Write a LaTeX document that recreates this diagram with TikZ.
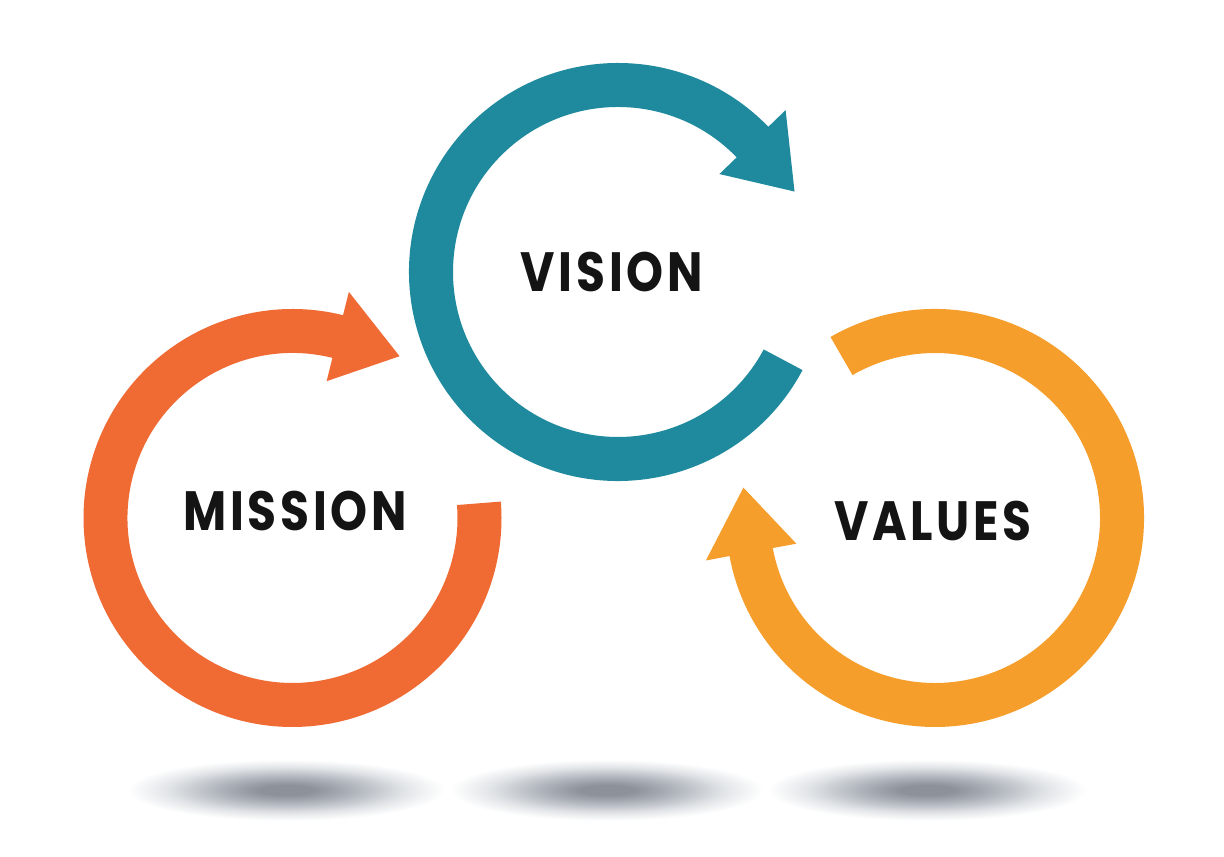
\documentclass[tikz,border=0pt]{standalone}
\usepackage{fontspec}
\newfontfamily\lblfont{Poppins}[LetterSpace=8]
\definecolor{visioncol}{RGB}{31,138,158}
\definecolor{missioncol}{RGB}{240,106,52}
\definecolor{valuescol}{RGB}{245,158,43}
\definecolor{shadowc}{RGB}{140,145,154}
\definecolor{shadowm}{RGB}{180,185,192}
\definecolor{shadowl}{RGB}{226,229,232}
\pgfdeclareradialshading{floorshadow}{\pgfpoint{0bp}{0bp}}{color(0bp)=(shadowc); color(4bp)=(shadowc); color(11bp)=(shadowm); color(18bp)=(shadowl); color(24bp)=(white); color(50bp)=(white)}
\tikzset{
  lbl/.style={font=\lblfont\bfseries\fontsize{31.5}{31.5}\selectfont, text=black!92, inner sep=0pt, xscale=0.85},
}
% \cyclearrow{center}{tail angle}{head base angle}{colour}
\newcommand{\cyclearrow}[4]{%
  \fill[#4] ([shift={(#1)}]#2:209) arc[start angle=#2, end angle=#3, radius=209]
    -- ([shift={(#1)}]#3:233) -- ([shift={(#1)}]#3-19.5:194) -- ([shift={(#1)}]#3:141)
    -- ([shift={(#1)}]#3:165) arc[start angle=#3, end angle=#2, radius=165] -- cycle;}
\begin{document}
\begin{tikzpicture}[x=0.02cm,y=0.02cm]
\useasboundingbox (0,0) rectangle (1224,857);
\fill[white] (0,0) rectangle (1224,857);
% floor shadows
\shade[shading=floorshadow] (286,67) ellipse (165 and 32);
\shade[shading=floorshadow] (607,67) ellipse (163 and 32);
\shade[shading=floorshadow] (927,67) ellipse (166 and 32);
% ring centres
\coordinate (cv) at (618,585);
\coordinate (cm) at (292.5,339);
\coordinate (cl) at (935,339);
% arrows
\cyclearrow{cv}{-28}{-316}{visioncol}
\cyclearrow{cm}{4.5}{-284}{missioncol}
\cyclearrow{cl}{120}{-169.5}{valuescol}
% labels
\node[lbl] (vision) at (612,585) {VISION};
\node[lbl] (mission) at (295,346) {MISSION};
\node[lbl] (values) at (933,336) {VALUES};
\end{tikzpicture}
\end{document}
